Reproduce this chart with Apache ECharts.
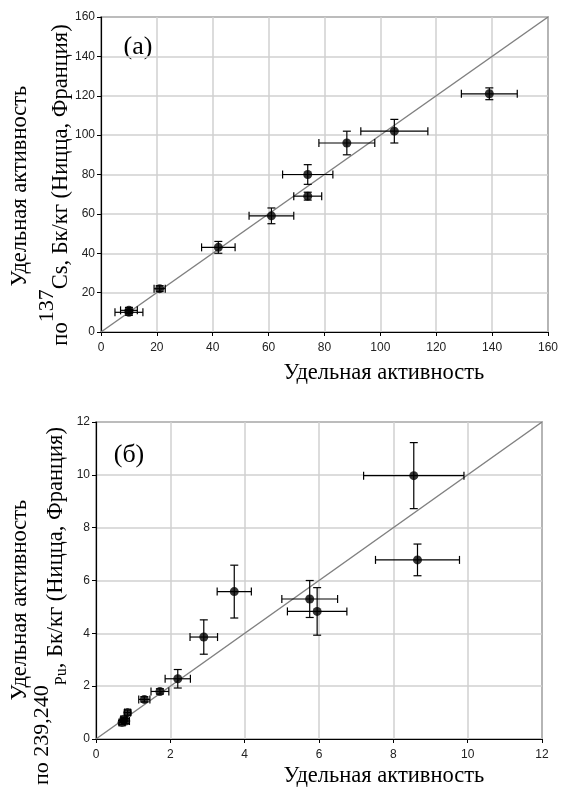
<!DOCTYPE html>
<html>
<head>
<meta charset="utf-8">
<script src="https://cdn.jsdelivr.net/npm/echarts@6/dist/echarts.min.js"></script>
<style>
  html, body { margin: 0; padding: 0; background: #fff; }
  #chart { width: 561px; height: 792px; }
</style>
</head>
<body>
<div id="chart"></div>
<script>
// (a) 137Cs
var csX = [10, 10, 21, 42, 61, 74, 74, 88, 105, 139];
var csY = [10, 11, 22, 43, 59, 69, 80, 96, 102, 121];
var csXErr = [5, 3, 2, 6, 8, 5, 9, 10, 12, 10];
var csYErr = [1.5, 1.5, 1.5, 3, 4, 2, 5, 6, 6, 3];
var csRange = [0, 160];
var csStep = 20;

// (б) 239,240Pu
var puX = [0.7, 0.75, 0.8, 0.85, 1.3, 1.72, 2.2, 2.9, 3.72, 5.75, 5.95, 8.55, 8.65];
var puY = [0.62, 0.75, 0.68, 1.0, 1.5, 1.8, 2.28, 3.86, 5.58, 5.3, 4.83, 9.97, 6.78];
var puXErr = [0.08, 0.08, 0.1, 0.08, 0.15, 0.24, 0.34, 0.37, 0.46, 0.75, 0.8, 1.35, 1.13];
var puYErr = [0.08, 0.08, 0.1, 0.1, 0.1, 0.1, 0.35, 0.65, 1.0, 0.7, 0.9, 1.25, 0.6];
var puRange = [0, 12];
var puStep = 2;

var xName = 'Удельная активность';
var yName1 = 'Удельная активность';

var chart = echarts.init(document.getElementById('chart'), null, { renderer: 'canvas' });

function zip(a, b, c, d) {
    return a.map(function (v, i) {
        return c ? [v, b[i], c[i], d[i]] : [v, b[i]];
    });
}

function errRender(params, api) {
    var x = api.value(0), y = api.value(1), ex = api.value(2), ey = api.value(3);
    var l = api.coord([x - ex, y]), r = api.coord([x + ex, y]);
    var t = api.coord([x, y + ey]), b = api.coord([x, y - ey]);
    var h = 4;
    var st = { stroke: '#000', lineWidth: 1.2 };
    function ln(x1, y1, x2, y2) {
        return { type: 'line', shape: { x1: x1, y1: y1, x2: x2, y2: y2 }, style: st };
    }
    return {
        type: 'group',
        children: [
            ln(l[0], l[1], r[0], r[1]),
            ln(l[0], l[1] - h, l[0], l[1] + h),
            ln(r[0], r[1] - h, r[0], r[1] + h),
            ln(t[0], t[1], b[0], b[1]),
            ln(t[0] - h, t[1], t[0] + h, t[1]),
            ln(b[0] - h, b[1], b[0] + h, b[1])
        ]
    };
}

function axis(idx, range, step, pos) {
    return {
        type: 'value',
        gridIndex: idx,
        position: pos,
        min: range[0],
        max: range[1],
        interval: step,
        axisLine: { show: true, onZero: false, lineStyle: { color: '#000', width: 1.2 } },
        axisTick: { show: true, length: 4, lineStyle: { color: '#000' } },
        axisLabel: { fontFamily: 'Liberation Sans', fontSize: 12, color: '#222', margin: pos === 'bottom' ? 10 : 6 },
        splitLine: { show: true, lineStyle: { color: '#d0d0d0', width: 1.5 } }
    };
}

var serif = '"Liberation Serif", "Times New Roman", serif';
var fs = 22.5;
// superscript / subscript shifts done with token padding
var richLine = {
    n: { fontFamily: serif, fontSize: fs, color: '#000', verticalAlign: 'middle' },
    sup: { fontFamily: serif, fontSize: 22, color: '#000', verticalAlign: 'middle', padding: [0, 0, 28, 0] },
    sub: { fontFamily: serif, fontSize: 16, color: '#000', verticalAlign: 'middle', padding: [12, 0, 0, 0] }
};

function vtext(x, y, text, rich) {
    var style = { text: text, align: 'center', verticalAlign: 'middle', fill: '#000',
        font: fs + 'px ' + serif };
    if (rich) style.rich = rich;
    return { type: 'text', x: x, y: y, rotation: Math.PI / 2, style: style };
}

function htext(x, y, text, size) {
    return { type: 'text', x: x, y: y, style: { text: text, align: 'center', verticalAlign: 'middle',
        fill: '#000', font: size + 'px ' + serif } };
}

var option = {
    animation: false,
    backgroundColor: '#fff',
    grid: [
        { left: 101, top: 17, width: 450, height: 315, show: true, borderColor: '#000', borderWidth: 1.2 },
        { left: 96, top: 422, width: 446, height: 317, show: true, borderColor: '#000', borderWidth: 1.2 }
    ],
    xAxis: [axis(0, csRange, csStep, 'bottom'), axis(1, puRange, puStep, 'bottom')],
    yAxis: [axis(0, csRange, csStep, 'left'), axis(1, puRange, puStep, 'left')],
    series: [
        {
            type: 'line', xAxisIndex: 0, yAxisIndex: 0, data: zip(csRange, csRange),
            symbol: 'none', lineStyle: { color: '#808080', width: 1.5 }, z: 1
        },
        {
            type: 'custom', xAxisIndex: 0, yAxisIndex: 0, renderItem: errRender,
            encode: { x: 0, y: 1 }, data: zip(csX, csY, csXErr, csYErr), z: 2
        },
        {
            type: 'scatter', xAxisIndex: 0, yAxisIndex: 0, data: zip(csX, csY),
            symbol: 'circle', symbolSize: 9, itemStyle: { color: '#000' }, z: 3
        },
        {
            type: 'line', xAxisIndex: 1, yAxisIndex: 1, data: zip(puRange, puRange),
            symbol: 'none', lineStyle: { color: '#808080', width: 1.5 }, z: 1
        },
        {
            type: 'custom', xAxisIndex: 1, yAxisIndex: 1, renderItem: errRender,
            encode: { x: 0, y: 1 }, data: zip(puX, puY, puXErr, puYErr), z: 2
        },
        {
            type: 'scatter', xAxisIndex: 1, yAxisIndex: 1, data: zip(puX, puY),
            symbol: 'circle', symbolSize: 9, itemStyle: { color: '#000' }, z: 3
        }
    ],
    graphic: [
        htext(384, 373, xName, fs),
        htext(384, 776, xName, fs),
        htext(138, 47, '(a)', 26),
        htext(129, 455, '(б)', 26),
        vtext(20, 186, yName1),
        vtext(61, 185, '{n|по}{sup|137}{n|Cs, Бк/кг (Ницца, Франция)}', richLine),
        vtext(20, 600, yName1),
        vtext(56, 606, '{sup|по 239,240}{sub|Pu}{n|, Бк/кг (Ницца, Франция)}', richLine)
    ]
};

chart.setOption(option);
</script>
</body>
</html>
